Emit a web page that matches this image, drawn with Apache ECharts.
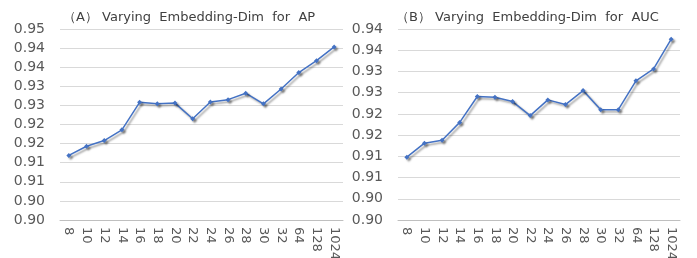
<!DOCTYPE html>
<html lang="en">
<head>
    <meta charset="UTF-8">
    <title>Embedding-Dim</title>
    <script src="https://cdn.jsdelivr.net/npm/echarts@6/dist/echarts.min.js"></script>
    <style>
        body { margin: 0; background: #fff; }
        #main { width: 697px; height: 258px; }
    </style>
</head>
<body>
<div id="main"></div>
<script>
    // 横轴：embedding 维度
    var dims = ['8', '10', '12', '14', '16', '18', '20', '22', '24', '26', '28', '30', '32', '64', '128', '1024'];
    // (A) AP
    var apValues = [0.9169, 0.9193, 0.9208, 0.9236, 0.9308, 0.9304, 0.9306, 0.9265, 0.9309, 0.9315, 0.9332, 0.9304, 0.9343, 0.9386, 0.9417, 0.9453];
    // (B) AUC
    var aucValues = [0.9148, 0.9181, 0.9188, 0.9230, 0.9291, 0.9289, 0.9279, 0.9246, 0.9283, 0.9272, 0.9305, 0.9260, 0.9260, 0.9328, 0.9356, 0.9426];
    var apRange = [0.90, 0.95];
    var aucRange = [0.90, 0.945];
    var yStep = 0.005;

    var myChart = echarts.init(document.getElementById('main'));

    function fmt(v) {
        // 两位小数，向下取整（Excel 风格的显示）
        return (Math.floor(v * 100 + 1e-6) / 100).toFixed(2);
    }

    function xAxis(idx) {
        return {
            type: 'category',
            gridIndex: idx,
            data: dims,
            boundaryGap: true,
            axisLine: { lineStyle: { color: '#bfbfbf' } },
            axisTick: { length: 5, lineStyle: { color: '#bfbfbf' } },
            axisLabel: {
                rotate: -90,
                interval: 0,
                color: '#595959',
                fontFamily: 'DejaVu Sans',
                fontSize: 13,
                margin: 7
            }
        };
    }

    function yAxis(idx, range) {
        return {
            type: 'value',
            gridIndex: idx,
            min: range[0],
            max: range[1],
            interval: yStep,
            axisLine: { show: false },
            axisTick: { show: false },
            splitLine: { lineStyle: { color: '#d9d9d9' } },
            axisLabel: {
                color: '#595959',
                fontFamily: 'DejaVu Sans',
                fontSize: 14,
                margin: 15,
                formatter: fmt
            }
        };
    }

    function line(idx, values) {
        return {
            type: 'line',
            xAxisIndex: idx,
            yAxisIndex: idx,
            data: values,
            symbol: 'diamond',
            symbolSize: 5,
            lineStyle: {
                color: '#4472c4',
                width: 1.5,
                shadowColor: 'rgba(0,0,0,0.4)',
                shadowOffsetX: 2,
                shadowOffsetY: 2,
                shadowBlur: 2
            },
            itemStyle: {
                color: '#4472c4',
                shadowColor: 'rgba(0,0,0,0.4)',
                shadowOffsetX: 2,
                shadowOffsetY: 2,
                shadowBlur: 2
            },
            animation: false
        };
    }

    var titleStyle = { color: '#404040', fontSize: 13, fontWeight: 'normal', fontFamily: 'DejaVu Sans' };

    var option = {
        animation: false,
        title: [
            { text: '（A） Varying  Embedding-Dim  for  AP', left: 58, top: 6, textStyle: titleStyle },
            { text: '（B） Varying  Embedding-Dim  for  AUC', left: 391, top: 6, textStyle: titleStyle }
        ],
        grid: [
            { left: 60, top: 29, width: 283, height: 191, outerBoundsMode: 'none', containLabel: false },
            { left: 398, top: 29, width: 282, height: 191, outerBoundsMode: 'none', containLabel: false }
        ],
        xAxis: [xAxis(0), xAxis(1)],
        yAxis: [yAxis(0, apRange), yAxis(1, aucRange)],
        series: [line(0, apValues), line(1, aucValues)]
    };
    myChart.setOption(option);
</script>
</body>
</html>
